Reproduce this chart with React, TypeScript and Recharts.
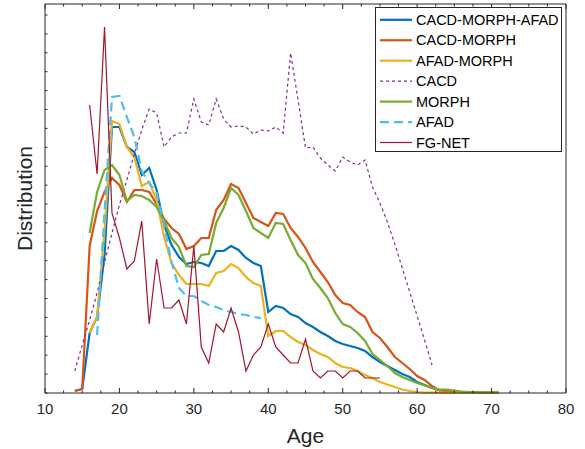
import React from 'react';
import { LineChart, Line, XAxis, YAxis, Legend } from 'recharts';

// age range covered by the plot, one row per year
const ages = [
  14, 15, 16, 17, 18, 19, 20, 21, 22, 23, 24, 25, 26, 27, 28, 29, 30, 31, 32, 33,
  34, 35, 36, 37, 38, 39, 40, 41, 42, 43, 44, 45, 46, 47, 48, 49, 50, 51, 52, 53,
  54, 55, 56, 57, 58, 59, 60, 61, 62, 63, 64, 65, 66, 67, 68, 69, 70, 71,
];

// distribution values (arbitrary units), each list starts at its first age
const cacdMorphAfadFrom = 14;
const cacdMorphAfad = [
  2, 4, 60, 76, 138, 266, 266, 246, 241, 218,
  225, 203, 168, 148, 136, 129, 131, 130, 127, 142,
  142, 147, 143, 135, 130, 127, 81, 87, 85, 79,
  76, 70, 66, 61, 57, 52, 49, 47, 45, 42,
  36, 31, 27, 23, 19, 16, 11, 8, 5, 3,
  2, 1.5, 1, 1, 1, 0.5, 0.5, 0.3,
];

const cacdMorphFrom = 14;
const cacdMorph = [
  2, 4, 147, 182, 201, 215, 208, 191, 203, 203,
  201, 189, 174, 165, 159, 144, 147, 155, 155, 183,
  193, 209, 205, 190, 175, 171, 167, 180, 179, 165,
  156, 145, 131, 121, 111, 98, 90, 88, 81, 76,
  61, 55, 46, 36, 30, 24, 17, 13, 7, 2.5,
  1.5, 1, 1, 0.5, 0.5, 0.4, 0.3, 0.2,
];

const afadMorphFrom = 16;
const afadMorph = [
  60, 76, 163, 272, 269, 246, 236, 207, 211, 193,
  156, 130, 118, 109, 109, 109, 107, 120, 122, 129,
  125, 116, 110, 107, 57, 62, 62, 56, 51, 48,
  43, 39, 36, 30, 26, 25, 22, 18, 15, 11,
  8.5, 6, 3.5, 2, 1, 0.5, 0.4, 0.3, 0.2, 0.2,
  0.1, 0.1, 0.1, 0.1, 0.1, 0.1,
];

const cacdFrom = 14;
const cacd = [
  22, 48, 73, 100, 131, 160, 188, 213, 239, 263,
  284, 280, 246, 256, 260, 260, 294, 271, 268, 294,
  274, 266, 267, 266, 259, 263, 262, 266, 260, 340,
  293, 245, 246, 235, 228, 222, 236, 231, 228, 233,
  206, 190, 171, 149, 125, 101, 77, 53, 28,
];

const morphFrom = 16;
const morph = [
  160, 201, 223, 228, 218, 192, 198, 197, 193, 186,
  172, 155, 146, 127, 126, 138, 139, 170, 185, 205,
  198, 182, 165, 160, 155, 170, 169, 153, 138, 130,
  114, 105, 95, 80, 69, 66, 60, 52, 39, 33,
  27, 20, 16, 13, 10, 7.5, 5, 3.5, 3.5, 2.5,
  1.5, 1, 0.5, 0.3, 0.3, 0.2,
];

const afadFrom = 17;
const afad = [
  58, 181, 296, 297, 276, 256, 222, 210, 200, 168,
  131, 105, 97, 97, 92, 88, 86, 83, 81, 79,
  78, 76, 75,
];

const fgnetFrom = 16;
const fgnet = [
  288, 219, 366, 180, 155, 124, 132, 172, 69, 134,
  85, 85, 93, 69, 147, 46, 30, 69, 61, 85,
  61, 22, 38, 46, 69, 46, 38, 30, 30, 54,
  22, 15, 22, 22, 15, 22, 22, 15, 15, 15,
];

const xTicks = [
  10, 12.5, 15, 17.5, 20, 22.5, 25, 27.5, 30, 32.5, 35, 37.5, 40, 42.5, 45,
  47.5, 50, 52.5, 55, 57.5, 60, 62.5, 65, 67.5, 70, 72.5, 75, 77.5, 80,
];
const yTicks = [
  0, 18.9, 37.8, 56.7, 75.6, 94.5, 113.4, 132.3, 151.2, 170.1, 189,
  207.9, 226.8, 245.7, 264.6, 283.5, 302.4, 321.3, 340.2, 359.1, 378,
];

const series = [
  { key: 'cma', name: 'CACD-MORPH-AFAD', from: cacdMorphAfadFrom, values: cacdMorphAfad },
  { key: 'cm', name: 'CACD-MORPH', from: cacdMorphFrom, values: cacdMorph },
  { key: 'am', name: 'AFAD-MORPH', from: afadMorphFrom, values: afadMorph },
  { key: 'cacd', name: 'CACD', from: cacdFrom, values: cacd },
  { key: 'morph', name: 'MORPH', from: morphFrom, values: morph },
  { key: 'afad', name: 'AFAD', from: afadFrom, values: afad },
  { key: 'fg', name: 'FG-NET', from: fgnetFrom, values: fgnet },
];

const styles: Record<string, { color: string; width: number; dash?: string }> = {
  cma: { color: '#0072BD', width: 2.2 },
  cm: { color: '#D95319', width: 2.2 },
  am: { color: '#EDB120', width: 2.2 },
  cacd: { color: '#7E2F8E', width: 1.2, dash: '3 3' },
  morph: { color: '#77AC30', width: 2.2 },
  afad: { color: '#4DBEEE', width: 2.2, dash: '9 5' },
  fg: { color: '#A2142F', width: 1.2 },
};

const data = ages.map((age) => {
  const row: Record<string, number | null> = { age };
  series.forEach((s) => {
    const v = s.values[age - s.from];
    row[s.key] = v === undefined ? null : v;
  });
  return row;
});

const FONT = '"Liberation Sans", Arial, Helvetica, sans-serif';
const AXIS = '#262626';

const BottomTick = (props: any) => {
  const { x, y, payload } = props;
  const major = payload.value % 10 === 0;
  return (
    <g>
      <line x1={x} x2={x} y1={y} y2={y - (major ? 5 : 2.5)} stroke={AXIS} />
      {major && (
        <text x={x} y={y + 21} textAnchor="middle" fontSize={15} fontFamily={FONT} fill={AXIS}>
          {payload.value}
        </text>
      )}
    </g>
  );
};

const TopTick = (props: any) => {
  const { x, y, payload } = props;
  const major = payload.value % 10 === 0;
  return <line x1={x} x2={x} y1={y} y2={y + (major ? 5 : 2.5)} stroke={AXIS} />;
};

const LeftTick = (props: any) => {
  const { x, y } = props;
  return <line x1={x} x2={x + 2.5} y1={y} y2={y} stroke={AXIS} />;
};

const RightTick = (props: any) => {
  const { x, y } = props;
  return <line x1={x} x2={x - 2.5} y1={y} y2={y} stroke={AXIS} />;
};

const LegendBox = () => (
  <svg width={187} height={145} style={{ display: 'block' }}>
    <rect x={0.5} y={0.5} width={186} height={144} fill="#fff" stroke={AXIS} />
    {series.map((s, i) => {
      const st = styles[s.key];
      const cy = 12.8 + i * 20.45;
      return (
        <g key={s.key}>
          <line x1={5} x2={37} y1={cy} y2={cy} stroke={st.color} strokeWidth={st.width} strokeDasharray={st.dash} />
          <text x={41} y={cy} dy="0.36em" fontSize={14.5} fontFamily={FONT} fill="#000">
            {s.name}
          </text>
        </g>
      );
    })}
  </svg>
);

export default function App() {
  return (
    <div style={{ position: 'absolute', left: 0, top: 0, background: '#fff' }}>
      <LineChart width={585} height={449} data={data} margin={{ top: 0, right: 0, bottom: 0, left: 0 }}>
        <XAxis
          dataKey="age"
          type="number"
          domain={[10, 80]}
          ticks={xTicks}
          interval={0}
          height={56}
          tickSize={0}
          tickMargin={0}
          tickLine={false}
          axisLine={{ stroke: AXIS }}
          tick={<BottomTick />}
          label={{ value: 'Age', position: 'insideBottom', offset: 6, fontSize: 21, fontFamily: FONT, fill: AXIS }}
        />
        <XAxis
          xAxisId="top"
          orientation="top"
          dataKey="age"
          type="number"
          domain={[10, 80]}
          ticks={xTicks}
          interval={0}
          height={4}
          tickSize={0}
          tickMargin={0}
          tickLine={false}
          axisLine={{ stroke: AXIS }}
          tick={<TopTick />}
        />
        <YAxis
          type="number"
          domain={[0, 389]}
          ticks={yTicks}
          interval={0}
          width={45}
          tickSize={0}
          tickMargin={0}
          tickLine={false}
          axisLine={{ stroke: AXIS }}
          tick={<LeftTick />}
          label={{
            value: 'Distribution',
            angle: -90,
            position: 'insideLeft',
            offset: 25,
            fontSize: 21,
            fontFamily: FONT,
            fill: AXIS,
            style: { textAnchor: 'middle' },
          }}
        />
        <YAxis
          yAxisId="right"
          orientation="right"
          type="number"
          domain={[0, 389]}
          ticks={yTicks}
          interval={0}
          width={19}
          tickSize={0}
          tickMargin={0}
          tickLine={false}
          axisLine={{ stroke: AXIS }}
          tick={<RightTick />}
        />
        {series.map((s) => {
          const st = styles[s.key];
          return (
            <Line
              key={s.key}
              type="linear"
              dataKey={s.key}
              name={s.name}
              stroke={st.color}
              strokeWidth={st.width}
              strokeDasharray={st.dash}
              dot={false}
              activeDot={false}
              connectNulls={false}
              isAnimationActive={false}
            />
          );
        })}
        <Legend
          layout="horizontal"
          verticalAlign="middle"
          align="center"
          content={<LegendBox />}
          wrapperStyle={{ position: 'absolute', left: 375, top: 7, width: 187, height: 145 }}
        />
      </LineChart>
    </div>
  );
}
